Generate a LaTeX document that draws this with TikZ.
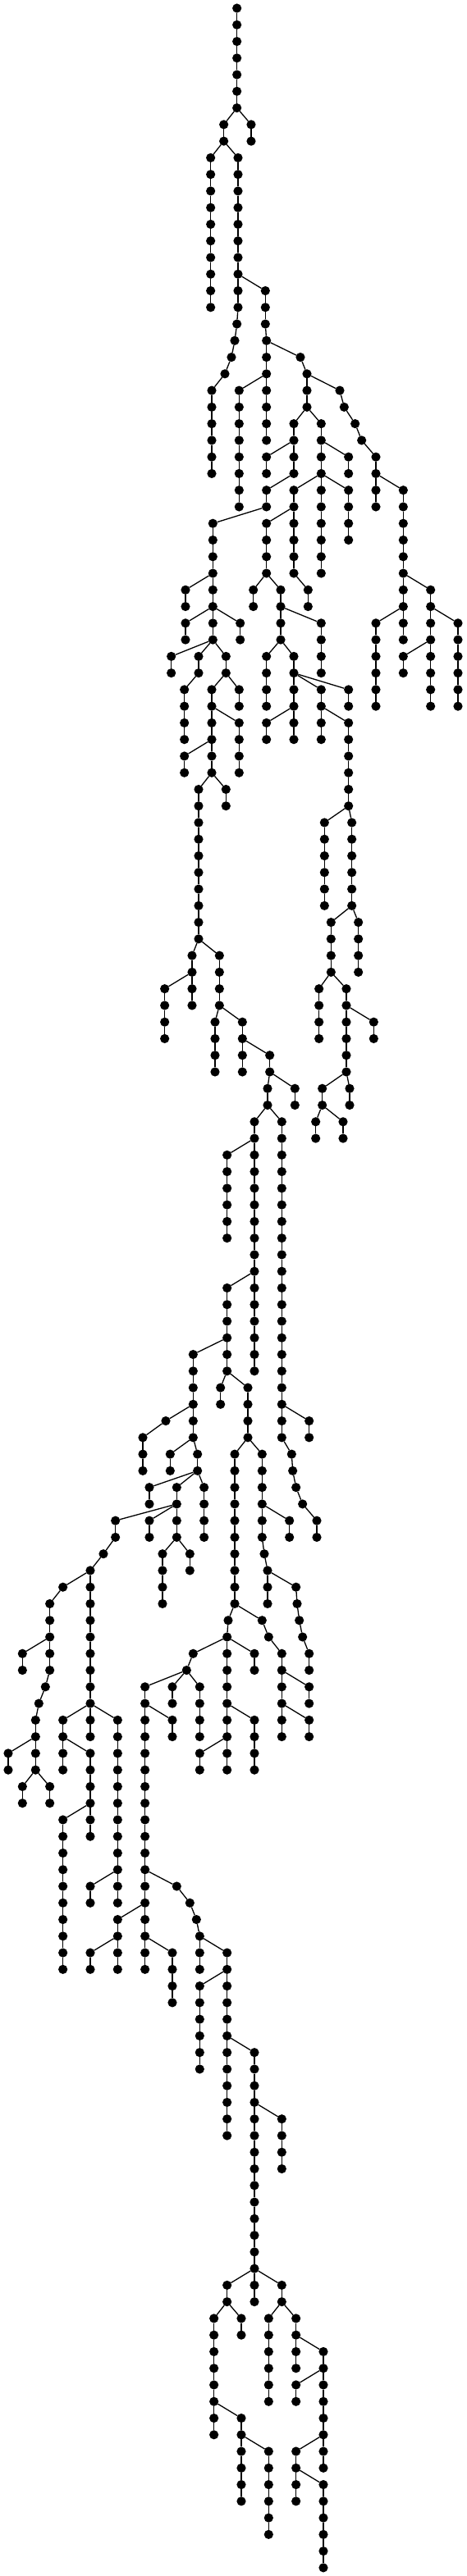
\documentclass[tikz,border=0pt]{standalone}
\tikzset{
	dot/.style={circle,fill=black,inner sep=0pt,outer sep=0pt,minimum size=5.6pt},
	link/.style={line width=0.65pt,black},
}
% one straight run of nodes below its parent: parent, x, first level, last level
\newcommand{\stem}[4]{%
	\gdef\prevnode{v#1}%
	\foreach \l in {#3,...,#4} {
		\node[dot] (v#2-\l) at (#2,\l) {};
		\draw[link] (\prevnode) -- (v#2-\l);
		\xdef\prevnode{v#2-\l}
	}%
}
\begin{document}
\begin{tikzpicture}[x=0.1666667pt,y=-10.133pt]
	\useasboundingbox (0,-0.4934) rectangle (1704,154.5);
	\node[dot] (v866-0) at (866,0) {};
	\stem{866-0}{866}{1}{6}
	\stem{866-6}{818}{7}{8}
	\stem{866-6}{918}{7}{8}
	\stem{818-8}{770}{9}{18}
	\stem{818-8}{870}{9}{18}
	\stem{870-18}{866}{19}{19}
	\stem{866-19}{858}{20}{20}
	\stem{858-20}{846}{21}{21}
	\stem{846-21}{822}{22}{22}
	\stem{822-22}{774}{23}{28}
	\stem{870-16}{970}{17}{19}
	\stem{970-19}{974}{20}{26}
	\stem{974-20}{1098}{21}{21}
	\stem{1098-21}{1122}{22}{24}
	\stem{1122-22}{1242}{23}{23}
	\stem{1242-23}{1258}{24}{24}
	\stem{1258-24}{1298}{25}{25}
	\stem{1298-25}{1322}{26}{26}
	\stem{1322-26}{1374}{27}{30}
	\stem{1374-28}{1474}{29}{38}
	\stem{1474-34}{1574}{35}{42}
	\stem{1474-36}{1374}{37}{42}
	\stem{1574-36}{1674}{37}{42}
	\stem{1574-38}{1474}{39}{40}
	\stem{974-22}{874}{23}{30}
	\stem{1122-24}{1074}{25}{28}
	\stem{1122-24}{1174}{25}{34}
	\stem{1074-26}{974}{27}{28}
	\stem{1074-28}{974}{29}{30}
	\stem{1174-26}{1274}{27}{28}
	\stem{1174-28}{1074}{29}{34}
	\stem{1174-28}{1274}{29}{32}
	\stem{1074-34}{1126}{35}{36}
	\stem{1074-30}{974}{31}{34}
	\stem{974-34}{926}{35}{36}
	\stem{974-34}{1026}{35}{38}
	\stem{1026-36}{1174}{37}{40}
	\stem{1026-38}{974}{39}{42}
	\stem{1026-38}{1074}{39}{44}
	\stem{1074-40}{1174}{41}{44}
	\stem{1074-40}{1274}{41}{42}
	\stem{1074-42}{974}{43}{44}
	\stem{1174-42}{1274}{43}{48}
	\stem{1274-48}{1186}{49}{54}
	\stem{1274-48}{1286}{49}{54}
	\stem{1286-54}{1210}{55}{58}
	\stem{1286-54}{1310}{55}{58}
	\stem{1210-58}{1166}{59}{62}
	\stem{1210-58}{1266}{59}{64}
	\stem{1266-60}{1366}{61}{62}
	\stem{1266-64}{1178}{65}{66}
	\stem{1266-64}{1278}{65}{66}
	\stem{1178-66}{1154}{67}{68}
	\stem{1178-66}{1254}{67}{68}
	\stem{974-30}{778}{31}{38}
	\stem{778-34}{678}{35}{36}
	\stem{778-36}{678}{37}{38}
	\stem{778-36}{878}{37}{38}
	\stem{778-38}{626}{39}{40}
	\stem{778-38}{726}{39}{40}
	\stem{778-38}{826}{39}{40}
	\stem{726-40}{674}{41}{44}
	\stem{826-40}{774}{41}{46}
	\stem{826-40}{874}{41}{42}
	\stem{774-42}{874}{43}{46}
	\stem{774-44}{674}{45}{46}
	\stem{774-46}{726}{47}{56}
	\stem{774-46}{826}{47}{48}
	\stem{726-56}{702}{57}{60}
	\stem{726-56}{802}{57}{60}
	\stem{702-58}{602}{59}{62}
	\stem{802-60}{786}{61}{64}
	\stem{802-60}{886}{61}{64}
	\stem{886-62}{986}{63}{64}
	\stem{986-64}{978}{65}{66}
	\stem{986-64}{1078}{65}{66}
	\stem{978-66}{930}{67}{82}
	\stem{978-66}{1030}{67}{86}
	\stem{930-68}{830}{69}{74}
	\stem{930-76}{830}{77}{82}
	\stem{830-80}{706}{81}{86}
	\stem{830-82}{806}{83}{84}
	\stem{830-82}{906}{83}{86}
	\stem{1030-84}{1130}{85}{86}
	\stem{706-84}{606}{85}{85}
	\stem{606-85}{522}{86}{88}
	\stem{706-86}{622}{87}{88}
	\stem{706-86}{722}{87}{88}
	\stem{722-88}{546}{89}{90}
	\stem{722-88}{646}{89}{92}
	\stem{722-88}{746}{89}{92}
	\stem{646-90}{422}{91}{92}
	\stem{646-90}{546}{91}{92}
	\stem{646-92}{594}{93}{96}
	\stem{646-92}{694}{93}{94}
	\stem{422-92}{378}{93}{93}
	\stem{378-93}{330}{94}{104}
	\stem{330-94}{230}{95}{95}
	\stem{230-95}{182}{96}{100}
	\stem{182-98}{82}{99}{100}
	\stem{182-100}{166}{101}{101}
	\stem{166-101}{142}{102}{102}
	\stem{142-102}{130}{103}{106}
	\stem{130-104}{30}{105}{106}
	\stem{130-106}{82}{107}{108}
	\stem{130-106}{182}{107}{108}
	\stem{330-102}{230}{103}{106}
	\stem{330-102}{430}{103}{114}
	\stem{230-104}{330}{105}{110}
	\stem{330-108}{230}{109}{118}
	\stem{430-112}{330}{113}{114}
	\stem{906-86}{858}{87}{96}
	\stem{906-86}{958}{87}{92}
	\stem{958-90}{1058}{91}{92}
	\stem{958-92}{966}{93}{93}
	\stem{966-93}{978}{94}{96}
	\stem{978-94}{1082}{95}{95}
	\stem{1082-95}{1086}{96}{96}
	\stem{1086-96}{1094}{97}{97}
	\stem{1094-97}{1106}{98}{98}
	\stem{1106-98}{1130}{99}{100}
	\stem{1030-86}{1066}{87}{87}
	\stem{1066-87}{1070}{88}{88}
	\stem{1070-88}{1082}{89}{89}
	\stem{1082-89}{1106}{90}{90}
	\stem{1106-90}{1158}{91}{92}
	\stem{858-96}{834}{97}{97}
	\stem{834-97}{830}{98}{106}
	\stem{858-96}{958}{97}{97}
	\stem{958-97}{982}{98}{98}
	\stem{982-98}{1030}{99}{104}
	\stem{1030-100}{1130}{101}{102}
	\stem{1030-102}{1130}{103}{104}
	\stem{830-98}{706}{99}{99}
	\stem{706-99}{682}{100}{100}
	\stem{830-98}{930}{99}{100}
	\stem{830-102}{930}{103}{106}
	\stem{830-104}{730}{105}{106}
	\stem{682-100}{530}{101}{118}
	\stem{682-100}{630}{101}{102}
	\stem{682-100}{730}{101}{104}
	\stem{530-102}{630}{103}{104}
	\stem{530-112}{646}{113}{113}
	\stem{646-113}{694}{114}{114}
	\stem{694-114}{718}{115}{115}
	\stem{718-115}{730}{116}{118}
	\stem{530-114}{430}{115}{118}
	\stem{530-116}{630}{117}{120}
	\stem{430-116}{330}{117}{118}
	\stem{730-116}{830}{117}{128}
	\stem{830-118}{730}{119}{124}
	\stem{830-122}{930}{123}{138}
	\stem{930-126}{1030}{127}{130}
	\stem{930-136}{830}{137}{138}
	\stem{930-136}{1030}{137}{138}
	\stem{830-138}{782}{139}{146}
	\stem{830-138}{882}{139}{140}
	\stem{782-144}{882}{145}{150}
	\stem{882-146}{982}{147}{152}
	\stem{1030-138}{982}{139}{144}
	\stem{1030-138}{1082}{139}{142}
	\stem{1082-140}{1182}{141}{148}
	\stem{1182-142}{1082}{143}{144}
	\stem{1182-146}{1082}{147}{150}
	\stem{1082-148}{1182}{149}{154}
\end{tikzpicture}
\end{document}
